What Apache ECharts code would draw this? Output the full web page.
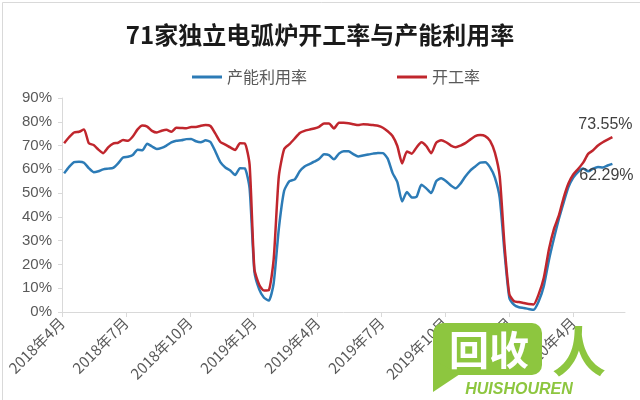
<!DOCTYPE html>
<html>
<head>
<meta charset="utf-8">
<script src="https://cdn.jsdelivr.net/npm/echarts@6/dist/echarts.min.js"></script>
<style>html,body{margin:0;padding:0;background:#fff;}#c{width:640px;height:400px;}</style>
</head>
<body>
<div id="c"></div>
<script>
const titleText = '71家独立电弧炉开工率与产能利用率';
const seriesNames = ['产能利用率', '开工率'];
const firstWeek = [2018, 4, 4];   // first weekly observation (y, m, d)
const weekStepDays = 7;
const axisOrigin = [2018, 4];     // x axis starts 2018年4月
const axisEndMonths = 26.43;      // axis runs to mid-June 2020
const tickEveryMonths = 3;

// 产能利用率 (%), weekly
const capacityUtil = [
 58.3,61.0,63.0,63.2,62.8,60.5,58.8,59.2,60.0,60.3,60.6,62.5,65.0,65.3,66.0,68.2,68.0,70.8,69.6,68.5,
 69.0,70.0,71.3,72.0,72.2,72.7,72.8,71.8,71.4,72.2,71.5,67.5,63.0,60.8,59.5,57.6,60.5,60.4,52.0,17.0,
 9.5,6.0,4.8,12.0,35.0,51.0,55.0,55.8,59.2,61.2,62.2,63.2,64.3,66.3,66.0,64.2,66.6,67.6,67.6,66.4,
 65.4,65.8,66.2,66.6,66.9,66.8,64.5,58.5,54.6,46.5,50.5,48.2,48.5,53.5,52.0,50.0,55.0,56.2,55.0,53.2,
 52.0,54.0,57.0,59.5,61.2,62.8,63.0,60.8,56.5,48.0,25.0,6.0,3.0,2.0,1.7,1.3,0.9,4.5,11.0,22.0,
 31.0,39.0,46.0,52.5,56.5,59.0,60.3,59.2,60.3,61.0,60.8,61.6,62.29
];
// 开工率 (%), weekly
const operatingRate = [
 71.0,73.5,75.5,75.8,76.8,71.0,70.2,68.3,66.8,69.2,70.8,71.2,72.3,72.0,73.8,76.8,78.4,78.0,76.2,75.5,
 76.2,76.6,75.8,77.5,77.4,77.3,77.8,77.8,78.3,78.6,78.2,75.0,71.5,70.4,69.2,68.1,71.0,70.9,62.0,18.0,
 11.5,9.0,9.2,22.0,57.0,68.5,70.6,73.0,75.3,76.2,76.7,77.2,77.9,79.3,79.3,77.2,79.6,79.6,79.4,79.0,
 78.6,79.0,78.9,78.6,78.3,77.5,76.0,74.0,69.8,62.5,67.5,66.6,69.2,71.4,69.8,66.8,71.2,72.2,71.4,70.0,
 69.3,70.0,71.0,72.5,74.0,74.4,74.0,72.0,67.0,57.0,28.0,7.5,4.5,4.2,3.8,3.4,3.2,7.5,14.5,26.5,
 35.0,40.5,48.0,54.0,57.8,60.2,62.8,66.5,68.0,70.0,71.4,72.5,73.55
];
const watermarkText = ['回收', '人', 'HUISHOUREN'];

// date -> months elapsed since axis origin (so ticks land on month starts)
function monthsSinceOrigin(date) {
  const y = date.getFullYear(), m = date.getMonth(), d = date.getDate();
  const dim = new Date(y, m + 1, 0).getDate();
  return (y - axisOrigin[0]) * 12 + (m + 1 - axisOrigin[1]) + (d - 1) / dim;
}
const weekX = capacityUtil.map((_, i) =>
  monthsSinceOrigin(new Date(firstWeek[0], firstWeek[1] - 1, firstWeek[2] + i * weekStepDays)));

function monthLabel(v) {
  const total = Math.round(v) + (axisOrigin[1] - 1);
  const y = axisOrigin[0] + Math.floor(total / 12);
  const m = total % 12 + 1;
  return y + '年' + m + '月';
}

const blue = '#2c7bb6';
const red = '#c0262d';
const green = '#8dc63f';
const lastIdx = capacityUtil.length - 1;

const chart = echarts.init(document.getElementById('c'), null, {renderer: 'canvas'});
chart.setOption({
  animation: false,
  backgroundColor: '#fff',
  title: {
    text: titleText, left: 'center', top: 18,
    textStyle: {fontFamily: 'Noto Sans CJK SC', fontSize: 24, fontWeight: 'bold', color: '#1a1a1a'}
  },
  legend: {
    top: 64, left: 187, itemGap: 90, itemWidth: 30, itemHeight: 3,
    icon: 'rect',
    textStyle: {fontFamily: 'Noto Sans CJK SC', fontSize: 16, color: '#595959'},
    data: seriesNames
  },
  grid: {left: 62, right: 15, top: 98, bottom: 88},
  xAxis: {
    type: 'value', min: 0, max: axisEndMonths, interval: tickEveryMonths,
    axisLine: {show: true, onZero: false, lineStyle: {color: '#d9d9d9', width: 1}},
    axisTick: {show: true, length: 5, lineStyle: {color: '#d9d9d9'}},
    axisLabel: {
      rotate: 45, margin: 8, showMaxLabel: false,
      fontFamily: 'Noto Sans CJK SC', fontSize: 15, color: '#595959',
      formatter: monthLabel
    },
    splitLine: {show: false}
  },
  yAxis: {
    type: 'value', min: 0, max: 90, interval: 10,
    axisLine: {show: true, lineStyle: {color: '#d9d9d9'}},
    axisTick: {show: true, length: 4, lineStyle: {color: '#d9d9d9'}},
    axisLabel: {formatter: '{value}%', fontFamily: 'Liberation Sans', fontSize: 15, color: '#595959', margin: 10},
    splitLine: {show: false}
  },
  series: [
    {
      name: seriesNames[0], type: 'line', smooth: 0.2, symbol: 'none',
      lineStyle: {color: blue, width: 2.5}, itemStyle: {color: blue},
      data: weekX.map((x, i) => [x, capacityUtil[i]]),
      endLabel: {
        show: true, distance: 0, align: 'center', verticalAlign: 'middle', offset: [-6, 12],
        fontFamily: 'Liberation Sans', fontSize: 16, color: '#404040',
        formatter: () => capacityUtil[lastIdx].toFixed(2) + '%'
      },
      z: 2
    },
    {
      name: seriesNames[1], type: 'line', smooth: 0.2, symbol: 'none',
      lineStyle: {color: red, width: 2.5}, itemStyle: {color: red},
      data: weekX.map((x, i) => [x, operatingRate[i]]),
      endLabel: {
        show: true, distance: 0, align: 'center', verticalAlign: 'middle', offset: [-7, -13],
        fontFamily: 'Liberation Sans', fontSize: 16, color: '#404040',
        formatter: () => operatingRate[lastIdx].toFixed(2) + '%'
      },
      z: 3
    }
  ],
  graphic: [
    {type: 'rect', left: 0, top: 0, shape: {width: 639, height: 399}, style: {fill: 'none', stroke: '#d9d9d9', lineWidth: 1}, silent: true},
    {type: 'rect', shape: {x: 433, y: 323, width: 109, height: 52, r: 10}, style: {fill: green}, z: 100, silent: true},
    {type: 'polygon', shape: {points: [[433, 360], [433, 392], [460, 374]]}, style: {fill: green}, z: 100, silent: true},
    {type: 'text', x: 489, y: 350, style: {text: watermarkText[0], fill: '#fff', font: 'bold 40px "Noto Sans CJK SC"', align: 'center', verticalAlign: 'middle'}, z: 101, silent: true},
    {type: 'text', x: 579, y: 351, style: {text: watermarkText[1], fill: green, font: 'bold 54px "Noto Sans CJK SC"', align: 'center', verticalAlign: 'middle'}, z: 101, silent: true},
    {type: 'text', x: 519, y: 390, style: {text: watermarkText[2], fill: green, font: 'italic bold 16px "Liberation Sans"', align: 'center', verticalAlign: 'middle'}, z: 101, silent: true}
  ]
});
</script>
</body>
</html>
